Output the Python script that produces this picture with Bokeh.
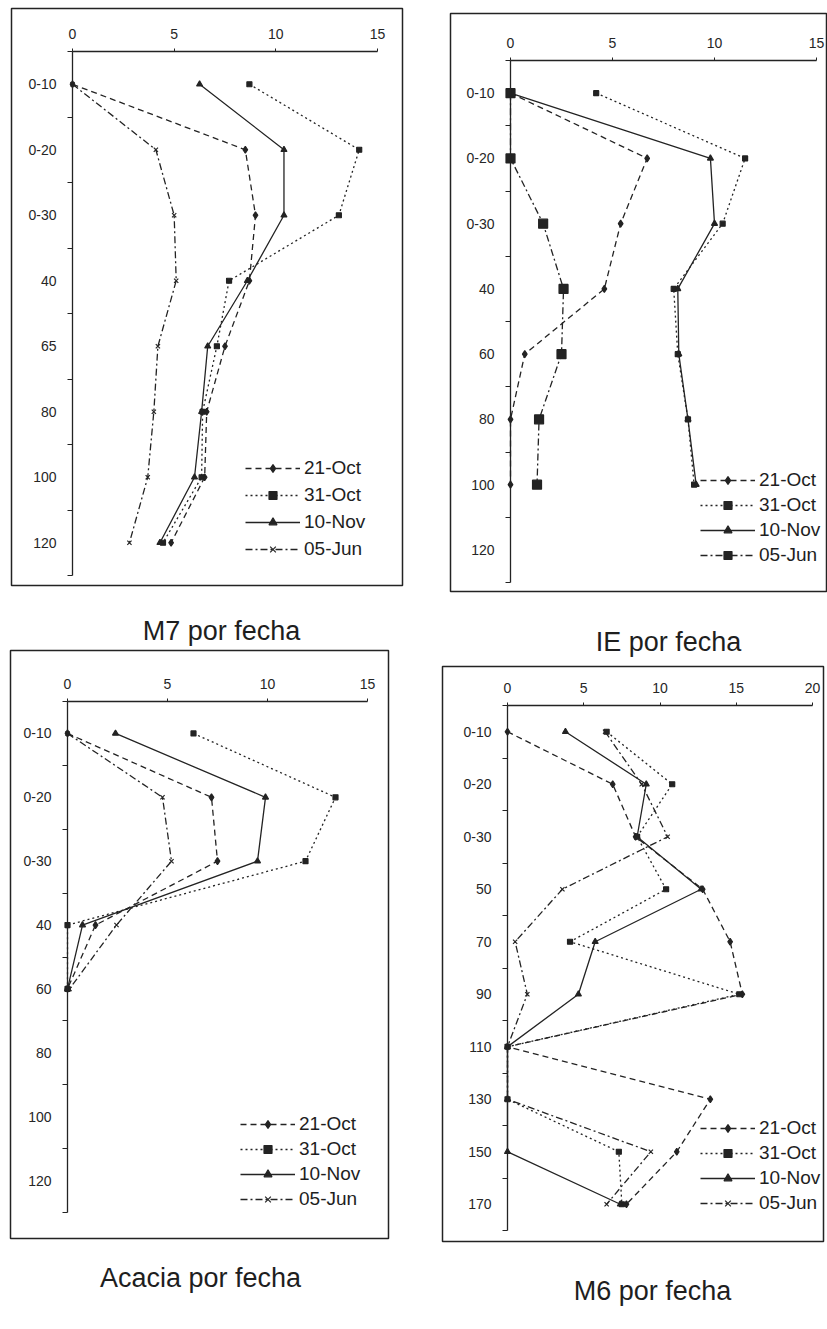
from bokeh.plotting import figure
from bokeh.models import LinearAxis, FixedTicker, Range1d, BoxAnnotation, Label
from bokeh.layouts import column, row
from bokeh.embed import file_html
from bokeh.resources import INLINE

# ---------------- data ----------------
series_names = ["21-Oct", "31-Oct", "10-Nov", "05-Jun"]

m7_depths = ["0-10", "0-20", "0-30", "40", "65", "80", "100", "120"]
m7_21oct = [0.0, 8.5, 9.0, 8.7, 7.5, 6.6, 6.5, 4.85]
m7_31oct = [8.7, 14.1, 13.1, 7.7, 7.1, 6.4, 6.35, 4.45]
m7_10nov = [6.25, 10.4, 10.4, 8.6, 6.65, 6.35, 6.0, 4.3]
m7_05jun = [0.0, 4.1, 5.0, 5.1, 4.2, 4.0, 3.7, 2.8]

ie_depths = ["0-10", "0-20", "0-30", "40", "60", "80", "100", "120"]
ie_21oct = [0.0, 6.7, 5.4, 4.6, 0.7, 0.0, 0.0]
ie_31oct = [4.2, 11.5, 10.4, 8.0, 8.2, 8.7, 9.0]
ie_10nov = [0.0, 9.8, 10.0, 8.2, 8.25, 8.7, 9.1]
ie_05jun = [0.0, 0.0, 1.6, 2.6, 2.5, 1.4, 1.3]

ac_depths = ["0-10", "0-20", "0-30", "40", "60", "80", "100", "120"]
ac_21oct = [0.0, 7.2, 7.5, 1.4, 0.0]
ac_31oct = [6.3, 13.4, 11.9, 0.0, 0.0]
ac_10nov = [2.4, 9.9, 9.5, 0.75, 0.0]
ac_05jun = [0.0, 4.75, 5.2, 2.45, 0.1]

m6_depths = ["0-10", "0-20", "0-30", "50", "70", "90", "110", "130", "150", "170"]
m6_21oct = [0.0, 6.9, 8.4, 12.8, 14.6, 15.4, 0.0, 13.3, 11.1, 7.8]
m6_31oct = [6.5, 10.8, 8.5, 10.4, 4.1, 15.2, 0.0, 0.0, 7.3, 7.5]
m6_10nov = [3.8, 9.1, 8.5, 12.7, 5.75, 4.65, 0.0, 0.0, 0.0, 7.4]
m6_05jun = [6.4, 8.8, 10.5, 3.6, 0.5, 1.3, 0.0, 0.0, 9.4, 6.5]

x_ticks_15 = [0, 5, 10, 15]
x_ticks_20 = [0, 5, 10, 15, 20]

# ---------------- style ----------------
INK = "#232323"
FONT = "Liberation Sans"
STYLE = {
    "21-Oct": dict(dash="6 4", marker="diamond", size=7),
    "31-Oct": dict(dash="2 3", marker="square", size=5),
    "10-Nov": dict(dash="solid", marker="triangle", size=6),
    "05-Jun": dict(dash="7 3 2 3", marker="x", size=6),
}
LEG_GLYPH = 20
LEG_ROW = 22


def panel(title, depths, data, xticks, canvas, box, axis_px, title_xy,
          legend_left, legend_first_row, legend_pitch, jun_marker=None):
    cx0, cy0, W, H = canvas          # page position/size of this figure
    bl, bt, br, bb = box             # page position of the frame box
    x0_px, xend_px, ytop_px, ybot_px = axis_px
    n = len(depths)
    xmax = xticks[-1]
    sx = (xend_px - x0_px) / xmax
    sy = (ybot_px - ytop_px) / n

    def dx(px):
        return (px - x0_px) / sx

    def dy(py):
        return (py - ytop_px) / sy

    p = figure(width=W, height=H,
               x_range=Range1d(dx(cx0), dx(cx0 + W)),
               y_range=Range1d(dy(cy0 + H), dy(cy0)),
               x_axis_location=None, y_axis_location=None,
               toolbar_location=None, output_backend="svg", title=None,
               min_border=0, min_border_left=0, min_border_right=0,
               min_border_top=0, min_border_bottom=0)
    p.grid.visible = False
    p.outline_line_color = None
    p.background_fill_color = "white"
    p.border_fill_color = "white"

    p.add_layout(BoxAnnotation(left=dx(bl), right=dx(br), top=dy(bt), bottom=dy(bb),
                               fill_color=None, fill_alpha=0,
                               line_color=INK, line_alpha=1.0, line_width=1.5))

    p.add_layout(Label(x=dx(title_xy[0]), y=dy(title_xy[1]), text=title,
                       text_align="center", text_baseline="middle",
                       text_font=FONT, text_font_size="27px",
                       text_color="#1e1e1e"))

    xax = LinearAxis(fixed_location=0, bounds=(0, xmax),
                     ticker=FixedTicker(ticks=xticks, minor_ticks=[]),
                     major_tick_out=3, major_tick_in=0,
                     minor_tick_out=0, minor_tick_in=0,
                     major_label_standoff=10,
                     axis_line_color=INK, axis_line_width=1.3,
                     major_tick_line_color=INK,
                     major_label_text_font=FONT,
                     major_label_text_font_size="14px",
                     major_label_text_color="#262626")
    p.add_layout(xax, "above")

    centers = [i + 0.5 for i in range(n)]
    yax = LinearAxis(fixed_location=0, bounds=(0, n),
                     ticker=FixedTicker(ticks=centers, minor_ticks=list(range(n + 1))),
                     major_label_overrides={c: d for c, d in zip(centers, depths)},
                     major_tick_out=0, major_tick_in=0,
                     minor_tick_out=5, minor_tick_in=0,
                     major_label_standoff=11,
                     axis_line_color=INK, axis_line_width=1.3,
                     minor_tick_line_color=INK,
                     major_label_text_font=FONT,
                     major_label_text_font_size="14px",
                     major_label_text_color="#262626")
    p.add_layout(yax, "left")

    for name, vals in zip(series_names, data):
        st = STYLE[name]
        ys = centers[:len(vals)]
        marker, size = st["marker"], st["size"]
        if name == "05-Jun" and jun_marker is not None:
            marker, size = jun_marker
        p.line(vals, ys, line_color=INK, line_width=1.3, line_dash=st["dash"],
               legend_label=name)
        p.scatter(vals, ys, marker=marker, size=size, line_color=INK,
                  fill_color=INK, line_width=1.2, legend_label=name)

    spacing = max(legend_pitch - LEG_ROW, 0)
    leg_top = legend_first_row - LEG_ROW / 2
    leg_bottom = leg_top + 4 * LEG_ROW + 3 * spacing
    lg = p.legend[0]
    lg.location = (legend_left - cx0, cy0 + H - leg_bottom)
    lg.margin = 0
    lg.padding = 0
    lg.spacing = int(round(spacing))
    lg.glyph_width = 55
    lg.glyph_height = LEG_GLYPH
    lg.label_height = LEG_GLYPH
    lg.label_standoff = 4
    lg.label_text_font = FONT
    lg.label_text_font_size = "19px"
    lg.label_text_color = "#1e1e1e"
    lg.background_fill_alpha = 0
    lg.border_line_alpha = 0
    return p


p1 = panel("M7 por fecha", m7_depths, [m7_21oct, m7_31oct, m7_10nov, m7_05jun],
           x_ticks_15, canvas=(0, 0, 436, 646), box=(11, 8, 402, 585),
           axis_px=(72, 377, 51, 575), title_xy=(221, 630),
           legend_left=245, legend_first_row=468, legend_pitch=27)
p3 = panel("Acacia por fecha", ac_depths, [ac_21oct, ac_31oct, ac_10nov, ac_05jun],
           x_ticks_15, canvas=(0, 646, 436, 679), box=(10, 650, 388, 1238),
           axis_px=(67, 367, 701, 1212), title_xy=(200, 1277),
           legend_left=240, legend_first_row=1124, legend_pitch=25)
p2 = panel("IE por fecha", ie_depths, [ie_21oct, ie_31oct, ie_10nov, ie_05jun],
           x_ticks_15, canvas=(436, 0, 391, 664), box=(450, 13, 826, 591),
           axis_px=(510, 816, 60, 582), title_xy=(668, 641),
           legend_left=700, legend_first_row=480, legend_pitch=25,
           jun_marker=("square", 9))
p4 = panel("M6 por fecha", m6_depths, [m6_21oct, m6_31oct, m6_10nov, m6_05jun],
           x_ticks_20, canvas=(436, 664, 391, 661), box=(442, 666, 823, 1241),
           axis_px=(507, 812, 705, 1230), title_xy=(652, 1290),
           legend_left=700, legend_first_row=1128, legend_pitch=25)

layout = row(column(p1, p3), column(p2, p4))
open("out.html", "w").write(file_html(layout, INLINE))
